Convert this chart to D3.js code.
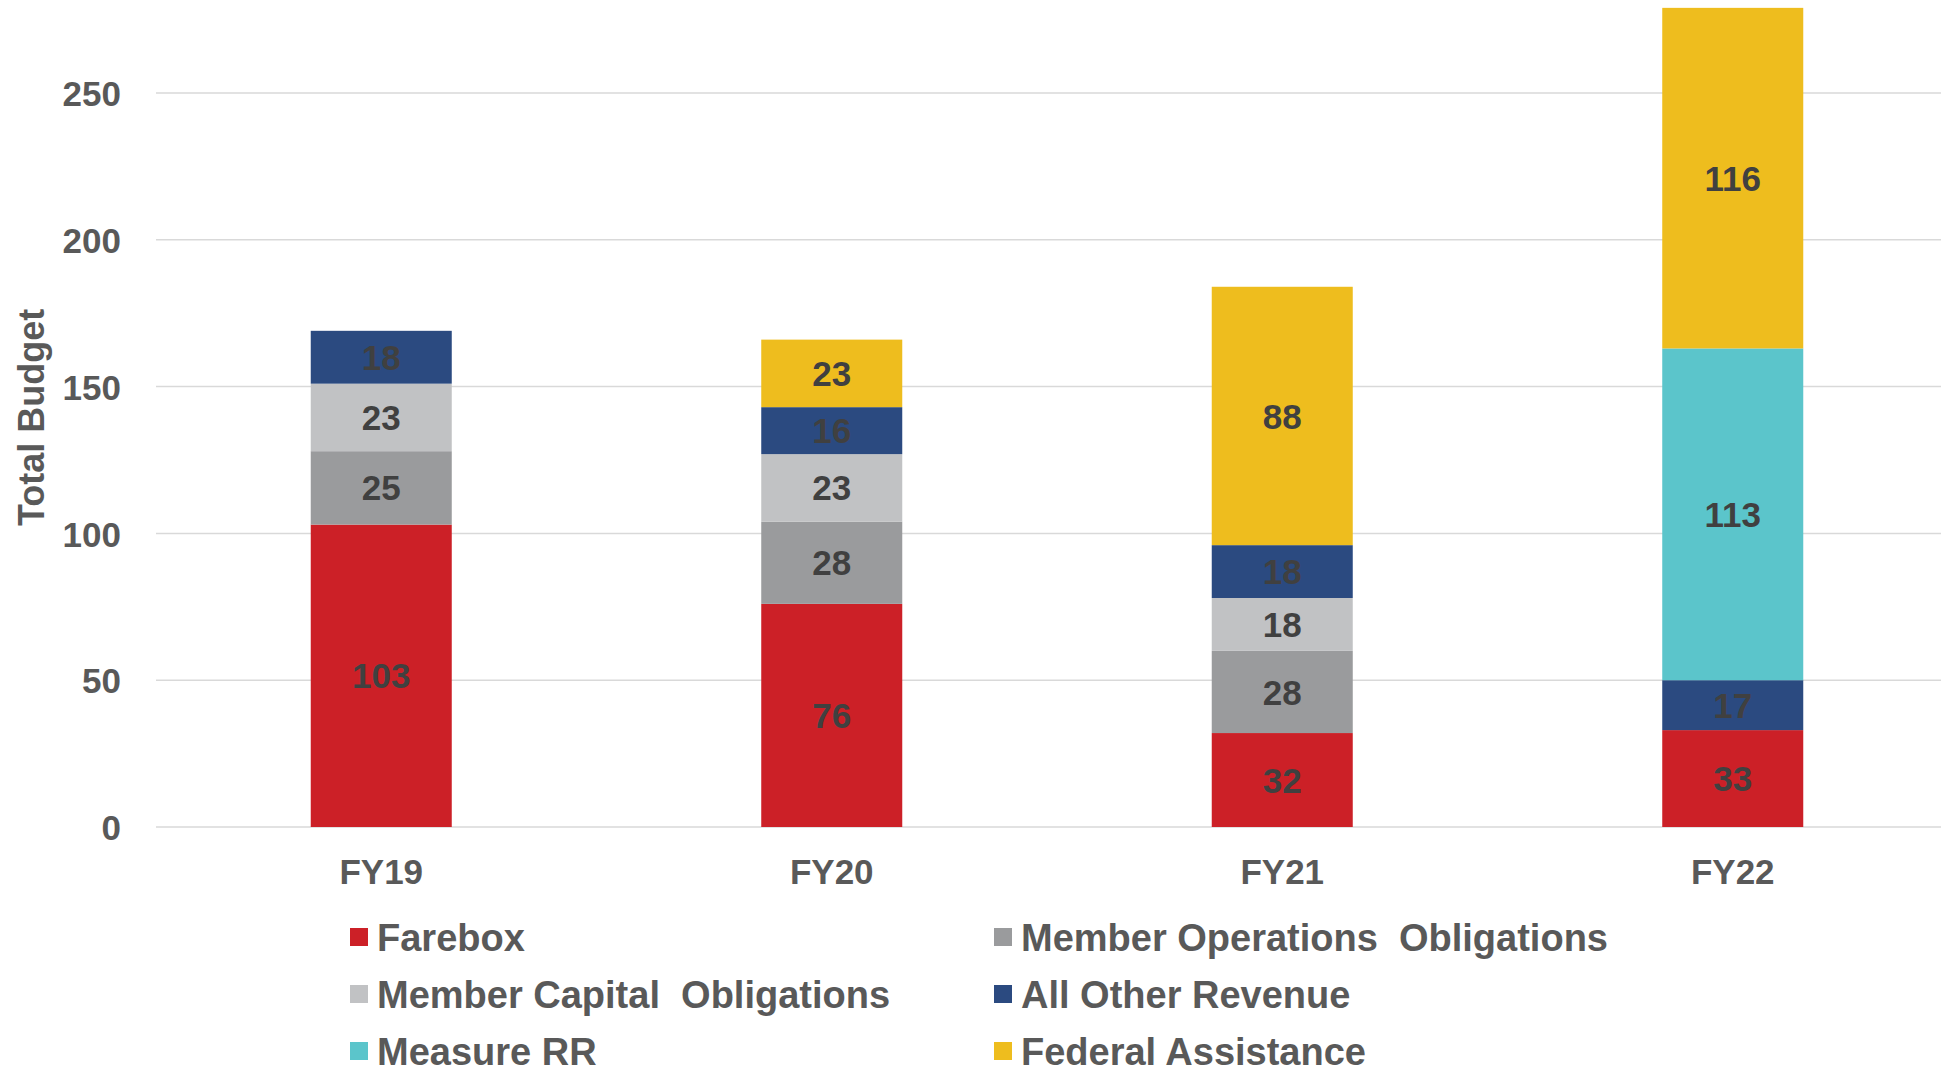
<!DOCTYPE html>
<html>
<head>
<meta charset="utf-8">
<script src="https://cdn.jsdelivr.net/npm/d3@7"></script>
<style>
  body { margin: 0; background: #fff; }
  svg { display: block; }
  .tick-label, .cat-label, .value-label { font-family: "Liberation Sans", Arial, sans-serif; font-weight: bold; }
  .legend-text, .y-title { font-family: "Liberation Sans Narrow", "Liberation Sans", Arial, sans-serif; font-weight: bold; white-space: pre; }
</style>
</head>
<body>
<svg id="chart" width="1941" height="1068"></svg>
<script>
// categories + series, bottom of stack first
var years = ["FY19", "FY20", "FY21", "FY22"];
var seriesNames = ["Farebox", "Member Operations  Obligations", "Member Capital  Obligations", "All Other Revenue", "Measure RR", "Federal Assistance"];
var farebox = [103, 76, 32, 33];
var memberOps = [25, 28, 28, 0];
var memberCapital = [23, 23, 18, 0];
var allOther = [18, 16, 18, 17];
var measureRR = [0, 0, 0, 113];
var federal = [0, 23, 88, 116];
var yTicks = [0, 50, 100, 150, 200, 250];

var seriesColors = ["#cc2027", "#9a9b9d", "#c1c2c4", "#2b4a80", "#5bc5cb", "#eebd1e"];

var rows = years.map(function(y, i){
	return {year: y, s0: farebox[i], s1: memberOps[i], s2: memberCapital[i], s3: allOther[i], s4: measureRR[i], s5: federal[i]};
});
var keys = ["s0", "s1", "s2", "s3", "s4", "s5"];

var svg = d3.select("#chart");
var plot = {left: 156, right: 1958, bottom: 827, top250: 93};

var x = d3.scaleBand().domain(years).range([plot.left, plot.right]).paddingInner(0.687).paddingOuter(0.3435);
var y = d3.scaleLinear().domain([0, 250]).range([plot.bottom, plot.top250]);

// gridlines
svg.append("g").selectAll("line")
	.data(yTicks).enter().append("line")
	.attr("x1", plot.left).attr("x2", 1941)
	.attr("y1", function(d){ return y(d); }).attr("y2", function(d){ return y(d); })
	.attr("stroke", "#d9d9d9").attr("stroke-width", 1.5);

// y axis labels
var yAxis = d3.axisLeft(y).tickValues(yTicks).tickSize(0).tickPadding(0);
var yg = svg.append("g").attr("transform", "translate(121,0)").call(yAxis);
yg.select(".domain").remove();
yg.selectAll("text").attr("class", "tick-label").attr("font-size", 35).attr("fill", "#595959").attr("dy", "0.36em");

// stacked bars
var stack = d3.stack().keys(keys);
var layers = stack(rows);

var layerG = svg.append("g").selectAll("g")
	.data(layers).enter().append("g")
	.attr("fill", function(d, i){ return seriesColors[i]; });

layerG.selectAll("rect")
	.data(function(d){ return d.filter(function(p){ return p[1] - p[0] > 0; }); })
	.enter().append("rect")
	.attr("x", function(d){ return x(d.data.year); })
	.attr("width", x.bandwidth())
	.attr("y", function(d){ return y(d[1]); })
	.attr("height", function(d){ return y(d[0]) - y(d[1]); });

layerG.selectAll("text")
	.data(function(d){ return d.filter(function(p){ return p[1] - p[0] > 0; }); })
	.enter().append("text")
	.attr("class", "value-label")
	.attr("x", function(d){ return x(d.data.year) + x.bandwidth() / 2; })
	.attr("y", function(d){ return y((d[0] + d[1]) / 2); })
	.attr("dy", "0.36em")
	.attr("text-anchor", "middle")
	.attr("font-size", 35)
	.attr("fill", "#404040")
	.text(function(d){ return d[1] - d[0]; });

// x axis labels
var xAxis = d3.axisBottom(x).tickSize(0).tickPadding(0);
var xg = svg.append("g").attr("transform", "translate(0,871)").call(xAxis);
xg.select(".domain").remove();
xg.selectAll("text").attr("class", "cat-label").attr("font-size", 35).attr("fill", "#595959").attr("dy", "0.36em");

// y title
svg.append("text")
	.attr("class", "y-title")
	.attr("transform", "translate(31," + ((y(0) + y(279)) / 2) + ") rotate(-90)")
	.attr("text-anchor", "middle")
	.attr("dy", "0.36em")
	.attr("font-size", 36)
	.attr("fill", "#595959")
	.text("Total Budget");

// legend, two columns
var legendX = [350, 994], legendY = [937, 994, 1051];
var legend = svg.append("g").selectAll("g")
	.data(seriesNames).enter().append("g")
	.attr("transform", function(d, i){ return "translate(" + legendX[i % 2] + "," + legendY[Math.floor(i / 2)] + ")"; });
legend.append("rect").attr("x", 0).attr("y", -9).attr("width", 18).attr("height", 18)
	.attr("fill", function(d, i){ return seriesColors[i]; });
legend.append("text").attr("class", "legend-text")
	.attr("x", 27).attr("dy", "0.36em")
	.attr("font-size", 38).attr("fill", "#595959")
	.text(function(d){ return d; });
</script>
</body>
</html>
